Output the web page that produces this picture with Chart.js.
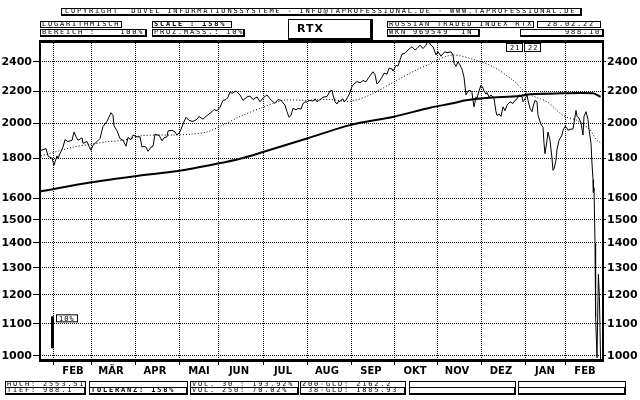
<!DOCTYPE html>
<html><head><meta charset="utf-8">
<script src="https://cdn.jsdelivr.net/npm/chart.js@4"></script>
<style>
html,body{margin:0;padding:0;background:#fff;}
#wrap{position:relative;width:640px;height:400px;overflow:hidden;background:#fff;}
canvas{position:absolute;left:0;top:0;}
.b{position:absolute;box-sizing:border-box;border:1px solid #000;font-family:'DejaVu Sans Mono',monospace;font-size:7px;letter-spacing:1.8px;line-height:5px;white-space:pre;color:#000;padding-left:1px;overflow:hidden;}
.bold{font-weight:bold;}
.sh{border-right-width:2px;border-bottom-width:2px;}
</style></head>
<body>
<div id="wrap">
<canvas id="c" width="640" height="400"></canvas>
<div class="b sh" style="left:61px;top:8px;width:521px;height:8px;padding-left:3px;">COPYRIGHT  DUVEL INFORMATIONSSYSTEME - INFO@TAPROFESSIONAL.DE - WWW.TAPROFESSIONAL.DE</div>
<div class="b" style="left:40px;top:21px;width:82px;height:7px;">LOGARITHMISCH</div>
<div class="b sh" style="left:40px;top:29px;width:107px;height:8px;">BEREICH :    100%</div>
<div class="b bold" style="left:152px;top:21px;width:80px;height:7px;">SCALE : 158%</div>
<div class="b sh" style="left:152px;top:29px;width:93px;height:8px;">PROZ.MASS.: 10%</div>
<div class="b" style="left:288px;top:19px;width:85px;height:22px;border-right-width:3px;border-bottom-width:3px;font-family:'DejaVu Sans',sans-serif;font-weight:bold;font-size:11px;line-height:17px;letter-spacing:1px;padding-left:8px;">RTX</div>
<div class="b" style="left:387px;top:21px;width:147px;height:7px;">RUSSIAN TRADED INDEX RTX</div>
<div class="b" style="left:537px;top:21px;width:64px;height:7px;padding-left:9px;">28.02.22</div>
<div class="b sh" style="left:387px;top:29px;width:93px;height:8px;">WKN 969549  IN</div>
<div class="b sh" style="left:520px;top:29px;width:84px;height:8px;text-align:right;padding-right:1px;">988.10</div>

<div class="b" style="left:5px;top:381px;width:81px;height:7px;">HOCH: 2553.51</div>
<div class="b sh" style="left:5px;top:387px;width:81px;height:8px;">TIEF: 988.1</div>
<div class="b" style="left:89px;top:381px;width:99px;height:7px;"></div>
<div class="b sh bold" style="left:89px;top:387px;width:99px;height:8px;">TOLERANZ: 158%</div>
<div class="b" style="left:190px;top:381px;width:109px;height:7px;">VOL. 30 : 193.92%</div>
<div class="b sh" style="left:190px;top:387px;width:109px;height:8px;">VOL. 250: 70.02%</div>
<div class="b" style="left:300px;top:381px;width:106px;height:7px;">200-GLD: 2162.2</div>
<div class="b sh" style="left:300px;top:387px;width:106px;height:8px;"> 38-GLD: 1885.93</div>
<div class="b" style="left:409px;top:381px;width:107px;height:7px;"></div>
<div class="b sh" style="left:409px;top:387px;width:107px;height:8px;"></div>
<div class="b" style="left:518px;top:381px;width:108px;height:7px;"></div>
<div class="b sh" style="left:518px;top:387px;width:108px;height:8px;"></div>
</div>
<script>
// ---- data (x = trading-day index from late Jan 2021) ----
const monthStarts = [6,25,47,69,89,111,133,155,177,198,220,242,262];
const monthLabels = ['FEB','MÄR','APR','MAI','JUN','JUL','AUG','SEP','OKT','NOV','DEZ','JAN','FEB'];
const yTicks = [1000,1100,1200,1300,1400,1500,1600,1800,2000,2200,2400];
const yMin = 988.1, yMax = 2553.51;

const priceDay = [0,2.5,3.5,5.5,6.5,8,8.5,9.5,11,12,13.5,15.5,16.5,17.5,18.5,20.5,21,23,24,25,26,28,29.5,31,33,35,36,36.5,38,39.5,41,42.5,43.5,45,46,48,49.5,50.5,51.5,52.5,53.5,55,56,57,58,59,60.5,61.5,63,63.5,65.5,67,68,69.5,71,72.5,74,76,78,79,81,82,83.5,85.5,86.5,88,89.5,91,92.5,93.5,94.5,95.5,97.5,99.5,101,103,104.5,106,108,109.5,111,113,114.5,116,117,118.5,120,122,123,124,125,126,127.5,128.5,130,131,132,133,134.5,136,137,138,139.5,141,143,144.5,145.5,146,147,148,148.5,149.5,151,151.5,152.5,153,154,155.5,156.5,158,159.5,161,162.5,164,166,167,168,169,170.5,171.5,173,174,175.5,176,177.5,178.5,179.5,180.5,182,183.5,185.5,187,188,189.5,191,192.5,193.5,195,196,197.5,198.5,200,201,202,203,205,206,206.5,207.5,208.5,209.5,210.5,211.5,212.5,213.5,214.5,215.5,216,216.5,217.5,218,219,220,221,221.5,222.5,223,224,225,226,226.5,227.5,228,229,230,231,232,233,234.5,236,237,238,239,240.5,241,242,243,243.5,244.5,245.5,246,247,248,248.5,250,251,251.5,252,253,253.5,254.5,255.5,256,256.5,257.5,258,259,260.5,261,262,263,263.5,265,266,266.5,267.5,268,269,270,271,271.5,272.5,273.5,274,275,275.5,276,276.2,276.5,277,277.3,278,278.7,279.2,279.8];
const priceVal = [1844,1854,1814,1801,1765,1814,1800,1826,1862,1904,1893,1900,1948,1920,1900,1914,1883,1893,1867,1844,1873,1893,1910,1980,2010,2063,2046,1984,1955,1910,1900,1867,1916,1904,1930,1920,1920,1862,1867,1862,1839,1862,1867,1935,1930,1930,1897,1914,1920,1953,1958,1948,1930,1948,1994,2035,2016,2010,2023,2040,2023,2035,2050,2069,2082,2075,2096,2140,2145,2160,2195,2185,2200,2175,2140,2162,2168,2145,2162,2131,2155,2175,2150,2131,2121,2145,2140,2110,2069,2035,2046,2090,2080,2090,2085,2121,2130,2130,2140,2135,2150,2130,2145,2160,2165,2200,2205,2175,2130,2117,2130,2135,2150,2131,2140,2155,2175,2231,2247,2263,2255,2270,2262,2293,2330,2310,2247,2260,2293,2320,2313,2355,2350,2335,2375,2370,2413,2456,2462,2486,2510,2486,2497,2522,2497,2522,2553,2522,2510,2449,2473,2440,2460,2473,2466,2473,2449,2390,2368,2400,2378,2347,2293,2175,2200,2205,2190,2140,2099,2162,2155,2200,2240,2220,2200,2180,2190,2162,2175,2162,2150,2069,2046,2055,2040,2099,2075,2110,2131,2120,2140,2150,2175,2162,2131,2150,2175,2140,2090,2069,2099,2140,2131,2046,1993,1975,1883,1826,1900,1948,1900,1800,1738,1745,1791,1850,1900,1930,1958,1980,1970,1958,1965,1965,2000,2077,2040,2030,2000,1930,2040,2069,2023,1965,1883,1772,1690,1626,1650,1400,1124,995,1275,1193,988.1];

const ma38Day = [0,16,24.5,33,41,49.5,58,66,74.5,83,91,99.5,111,121,133,144.5,154.5,164.5,178,188,194.5,198,206,216,226,236,243,253,261,268,274.5,277.5,279.8];
const ma38Val = [1814,1862,1877,1892,1900,1925,1930,1930,1935,1948,1988,2040,2096,2140,2140,2145,2134,2175,2272,2345,2385,2413,2449,2418,2365,2272,2185,2131,2046,2016,1960,1905,1886];

const ma200Day = [0,24.5,48,68.5,88.5,100,111,133,154.5,177,194.5,206,212.5,222.5,239.5,244.5,259.5,276,279.8];
const ma200Val = [1633,1676,1709,1734,1773,1800,1835,1910,1988,2040,2094,2121,2140,2155,2168,2180,2185,2185,2162];

const pts = (xs, ys) => xs.map((d, i) => ({x: d, y: ys[i]}));

const overlay = {
  id: 'overlay',
  afterDraw(chart) {
    const {ctx, chartArea: a, scales} = chart;
    const x = scales.x, y = scales.y;
    ctx.save();
    ctx.fillStyle = '#000';
    ctx.strokeStyle = '#000';
    // frame
    ctx.fillRect(a.left - 1, a.top - 1, a.right - a.left + 2, 3);
    ctx.fillRect(a.left - 1, a.top - 1, 2, a.bottom - a.top + 3);
    ctx.fillRect(a.right - 1, a.top - 1, 2, a.bottom - a.top + 3);
    ctx.fillRect(a.left - 1, a.bottom - 1, a.right - a.left + 2, 3);
    // 10% scale bar
    const bx = a.left + 11;
    const base = 1023;
    const yb0 = y.getPixelForValue(base), yb1 = y.getPixelForValue(base * 1.1);
    ctx.fillRect(bx, yb1, 3, yb0 - yb1);
    ctx.lineWidth = 1;
    ctx.strokeRect(bx + 5.5, yb1 - 1.5, 21, 7);
    ctx.font = '7px "DejaVu Sans Mono"';
    ctx.letterSpacing = '1px';
    ctx.textBaseline = 'alphabetic';
    ctx.textAlign = 'left';
    ctx.fillText('10%', bx + 8, yb1 + 4.5);
    // year boxes
    const yx = Math.round(x.getPixelForValue(monthStarts[11]));
    ctx.clearRect(yx - 19, a.top + 2, 36, 9);
    ctx.strokeRect(yx - 18.5, a.top + 2.5, 16, 8);
    ctx.strokeRect(yx - 0.5, a.top + 2.5, 16, 8);
    ctx.fillText('21', yx - 15, a.top + 8.5);
    ctx.fillText('22', yx + 3, a.top + 8.5);
    ctx.restore();
  }
};

const axisFont = {family: 'DejaVu Sans', weight: 'bold', size: 11};
const yScaleBase = {
  type: 'logarithmic', min: yMin, max: yMax,
  afterBuildTicks: s => { s.ticks = yTicks.map(v => ({value: v})); },
  ticks: {callback: v => String(v), autoSkip: false, color: '#000', font: axisFont, padding: 1},
  border: {display: false, dash: [1, 1]},
};

new Chart(document.getElementById('c'), {
  type: 'line',
  data: {
    datasets: [
      {label: 'RTX', data: pts(priceDay, priceVal), borderColor: '#000', borderWidth: 1, pointRadius: 0, tension: 0, fill: false},
      {label: '38-GLD', data: pts(ma38Day, ma38Val), borderColor: '#000', borderWidth: 1, borderDash: [1, 2], pointRadius: 0, tension: 0.3, fill: false},
      {label: '200-GLD', data: pts(ma200Day, ma200Val), borderColor: '#000', borderWidth: 2, pointRadius: 0, tension: 0.3, fill: false}
    ]
  },
  options: {
    responsive: false, animation: false, devicePixelRatio: 1,
    layout: {padding: {top: 41, left: 0, right: 0, bottom: 0}},
    plugins: {legend: {display: false}, tooltip: {enabled: false}},
    scales: {
      x: {
        type: 'linear', min: -0.5, max: 281,
        afterBuildTicks: s => { s.ticks = monthStarts.map(v => ({value: v})); },
        afterFit: s => { s.height = 40; },
        ticks: {callback: (v, i) => monthLabels[i], autoSkip: false, maxRotation: 0, minRotation: 0, labelOffset: 20, color: '#000', font: {family: 'DejaVu Sans', weight: 'bold', size: 10}, padding: 0},
        grid: {color: '#000', lineWidth: 1, tickLength: 5, tickColor: '#000', tickBorderDash: []},
        border: {display: false, dash: [1, 1]}
      },
      y: Object.assign({}, yScaleBase, {
        position: 'left',
        afterFit: s => { s.width = 40; },
        grid: {color: '#000', lineWidth: 1, tickLength: 7, tickColor: '#000', tickBorderDash: []}
      }),
      y2: Object.assign({}, yScaleBase, {
        position: 'right',
        afterFit: s => { s.width = 37; },
        grid: {drawOnChartArea: false, color: '#000', lineWidth: 1, tickLength: 3, tickColor: '#000', tickBorderDash: []}
      })
    }
  },
  plugins: [overlay]
});
</script>
</body></html>
